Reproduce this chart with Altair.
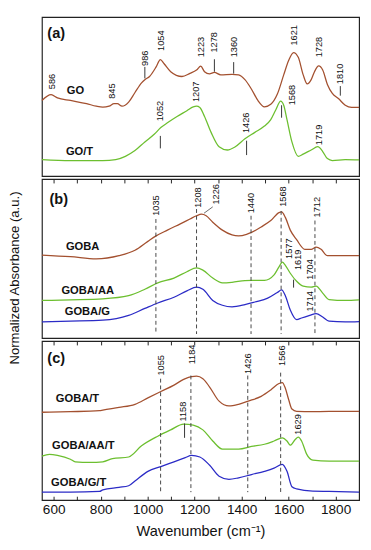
import altair as alt
import pandas as pd

# ---------------- data ----------------
# Panel (a)
go_wn = [550, 589, 616, 671, 740, 781, 809, 836, 857, 871, 891, 919, 946, 974, 988, 1008, 1036, 1054, 1070, 1098,
         1146, 1180, 1208, 1226, 1242, 1263, 1284, 1311, 1359, 1387, 1414, 1442, 1469, 1497, 1524, 1552, 1579, 1600,
         1621, 1641, 1662, 1679, 1696, 1710, 1728, 1745, 1765, 1786, 1813, 1841, 1868, 1900]
go_val = [79, 85, 81.7, 79, 75.7, 73, 72, 73, 75.7, 75.7, 73, 77.3, 87.3, 97.3, 100.7, 104, 114, 121.7, 117.3, 109,
          104, 107.3, 110.7, 114.7, 109, 106.7, 108.3, 105.7, 106.3, 105.7, 100.7, 90.7, 79, 72.3, 75, 85.7, 105.7,
          120.7, 129, 124, 105.7, 96.3, 100.7, 109, 115, 110.7, 95.7, 86.3, 80.7, 74, 71.7, 71.7]
got_wn = [550, 671, 809, 864, 905, 946, 988, 1029, 1056, 1084, 1125, 1167, 1194, 1208, 1222, 1242, 1270, 1304, 1339,
          1373, 1414, 1456, 1497, 1524, 1545, 1566, 1579, 1593, 1614, 1641, 1662, 1696, 1724, 1745, 1765, 1786, 1841, 1900]
got_val = [17.3, 16.3, 16.3, 17.3, 20.7, 26.7, 35.7, 44, 50.7, 55.7, 62.3, 68.3, 72.3, 73, 71.7, 62.3, 45.7, 30.7,
           27.3, 30.7, 39, 45.7, 52.3, 59, 69, 78.3, 74, 59, 35.7, 20.7, 23, 27.3, 30.7, 25.7, 18.3, 16.3, 17.3, 17]

# Panel (b)
goba_wn = [550, 671, 781, 878, 946, 1001, 1036, 1084, 1139, 1180, 1208, 1229, 1249, 1277, 1318, 1359, 1387, 1421,
           1442, 1483, 1524, 1559, 1570, 1586, 1607, 1634, 1669, 1696, 1717, 1738, 1765, 1841, 1900]
goba_val = [86.7, 85, 82.7, 86, 91.7, 101, 106.7, 112.7, 119.3, 124.3, 127.7, 129.3, 127.7, 121, 112.7, 107.7, 106.7,
            108.3, 110.3, 116, 122.7, 131, 131.7, 126, 112.7, 102.7, 92.7, 92.7, 95, 92.7, 86, 86, 86]
gobaaa_wn = [550, 671, 809, 919, 988, 1043, 1112, 1167, 1208, 1235, 1277, 1318, 1359, 1414, 1442, 1497, 1538, 1559,
             1573, 1586, 1607, 1634, 1662, 1696, 1717, 1745, 1772, 1841, 1900]
gobaaa_val = [39.3, 40, 41, 44.3, 51, 57.7, 62.7, 69.3, 73.3, 71, 62.7, 57.7, 58.3, 60, 60.3, 60.3, 66, 74.3, 79.3,
              76, 67.7, 59.3, 54.3, 53.3, 54.3, 47, 40.3, 39.3, 40]
gobag_wn = [550, 671, 809, 919, 988, 1043, 1112, 1167, 1208, 1235, 1277, 1318, 1359, 1414, 1456, 1511, 1552, 1570,
            1586, 1607, 1634, 1655, 1690, 1717, 1745, 1772, 1841, 1900]
gobag_val = [17, 17.7, 18.7, 23.7, 31, 36.7, 42.7, 49.3, 53.3, 51, 39.3, 34.3, 32.7, 35, 37.7, 41.7, 47.7, 50.3,
             44.3, 29.3, 19.3, 21, 23.7, 25.7, 22, 17.7, 17, 17.3]

# Panel (c)
gobat_wn = [550, 671, 795, 809, 878, 946, 1001, 1056, 1112, 1153, 1187, 1208, 1235, 1263, 1304, 1346, 1387, 1428,
            1483, 1524, 1559, 1573, 1586, 1600, 1614, 1634, 1703, 1841, 1900]
gobat_val = [91.7, 92.3, 93.3, 94, 96.7, 100, 106.7, 113.3, 120, 126, 129, 129.3, 126.7, 118.3, 103.3, 98.3, 100,
             103.3, 108.3, 115, 121.7, 122.7, 116.7, 105, 95, 92.7, 92.3, 92.7, 92.7]
gobaaat_wn = [550, 582, 616, 671, 692, 754, 809, 850, 919, 974, 1043, 1098, 1153, 1194, 1235, 1277, 1318, 1387, 1442,
              1497, 1538, 1573, 1593, 1607, 1628, 1641, 1655, 1676, 1703, 1772, 1900]
gobaaat_val = [46, 47.7, 46.7, 42.7, 40, 39.3, 40, 43.3, 45, 56.7, 66.7, 73.3, 79.3, 78.3, 73.3, 61.7, 53.3, 53.3,
               56, 58.3, 61.7, 65, 61.7, 57.3, 63.3, 65.7, 61.7, 48.3, 41.7, 40.7, 40.7]
gobagt_wn = [550, 671, 795, 809, 878, 919, 946, 1001, 1056, 1112, 1160, 1187, 1222, 1263, 1304, 1346, 1387, 1442,
             1497, 1538, 1573, 1593, 1614, 1634, 1703, 1772, 1900]
gobagt_val = [8.3, 8.3, 9, 10.7, 13.3, 15, 20, 30, 35, 40, 44.3, 46.7, 45, 36.7, 25, 21.7, 23.3, 26.7, 30, 33.3,
              37.3, 30, 14, 11.7, 9.3, 9, 8.3]

# annotations: (text, wavenumber, height at start of text)
peaks_a = [("586", 592, 90.7), ("845", 850, 80.7), ("986", 988, 115), ("1054", 1056, 130.7), ("1223", 1226, 124),
           ("1278", 1284, 129), ("1360", 1366, 124), ("1621", 1625, 136.3), ("1728", 1731, 124), ("1810", 1820, 96),
           ("1052", 1054, 57.3), ("1207", 1208, 77.3), ("1426", 1421, 45), ("1568", 1614, 74), ("1719", 1731, 32.3)]
sticks_a = [(988, 114, 102), (1284, 122, 109), (1366, 119, 107), (1820, 94, 84), (1054, 42, 29), (1421, 37, 22),
            (1570, 74, 61)]
names_a = [("GO", 656, 88.3), ("GO/T", 652, 25.3)]

peaks_b = [("1035", 1036, 127.7), ("1208", 1213, 136), ("1226", 1291, 139.4), ("1440", 1442, 130.3),
           ("1568", 1575, 137), ("1712", 1720, 126), ("1577", 1600, 82.7), ("1619", 1642, 71), ("1704", 1690, 61),
           ("1714", 1690, 27.7)]
dashes_b = [(1035, 124.3, 4.3), (1208, 134.7, 4.3), (1440, 127.7, 4.3), (1568, 132.7, 4.3), (1712, 122.7, 4.3)]
sticks_b = [(1621, 61, 52.7)]
slant_b = [(1277, 137, 1240, 130.4)]
names_b = [("GOBA", 652, 94.7), ("GOBA/AA", 633, 49.4), ("GOBA/G", 647, 27.7)]

peaks_c = [("1055", 1059, 130), ("1184", 1191, 141.7), ("1426", 1428, 131.7), ("1566", 1573, 140),
           ("1158", 1149, 82), ("1629", 1641, 68.3)]
dashes_c = [(1055, 126.7, 8.3), (1184, 130, 8.3), (1426, 130, 8.3), (1566, 133, 8.3)]
sticks_c = [(1157, 80, 65)]
names_c = [("GOBA/T", 609, 105), ("GOBA/AA/T", 593, 56), ("GOBA/G/T", 589, 17.6)]

panel_tags = [("(a)", 573, 149.3), ("(b)", 582, 144.7), ("(c)", 573, 148.3)]

tick_values = list(range(600, 1900, 100))
y_title = "Normalized Absorbance (a.u.)"

# ---------------- styling ----------------
BROWN, GREEN, BLUE = "#A3502F", "#6CBF2F", "#2B2BC6"
W, H = 327, 164
FONT = "Liberation Sans"
xs = alt.Scale(domain=[550, 1900], nice=False, zero=False)
ys = alt.Scale(domain=[0, 166], nice=False, zero=False)

top_tick_axis = alt.Axis(orient="top", offset=-4, values=tick_values, labels=False, domain=False, ticks=True,
                         tickSize=4, tickColor="#222", tickWidth=1, grid=False, title=None)
bottom_axis = alt.Axis(orient="bottom", offset=-4, values=tick_values, format="d",
                       labelExpr="datum.value % 200 === 0 ? datum.label : ''", labelOverlap=False,
                       labelFontSize=14, labelColor="#111", labelPadding=3, labelFont=FONT,
                       domain=False, ticks=True, tickSize=4, tickColor="#222", tickWidth=1, grid=False,
                       title="Wavenumber (cm\u207b\u00b9)", titleFontSize=15, titleFontWeight="normal",
                       titleColor="#111", titlePadding=8, titleFont=FONT)


def panel(series, peaks, sticks, names, tag, dashes=None, slants=None, top_ticks=False, with_bottom=False):
    rows = []
    for name, wn, val, col in series:
        for w, v in zip(wn, val):
            rows.append({"wn": w, "val": v, "s": name, "c": col})
    df = pd.DataFrame(rows)
    lines = alt.Chart(df).mark_line(strokeWidth=1.3, interpolate="monotone").encode(
        x=alt.X("wn:Q", scale=xs, axis=top_tick_axis if top_ticks else None),
        y=alt.Y("val:Q", scale=ys, axis=None),
        color=alt.Color("c:N", scale=None),
        detail="s:N",
    )
    layers = [lines]
    if dashes:
        ddf = pd.DataFrame(dashes, columns=["wn", "y1", "y2"])
        layers.append(alt.Chart(ddf).mark_rule(color="#444", strokeWidth=1, strokeDash=[4, 3]).encode(
            x=alt.X("wn:Q", scale=xs, axis=None), y=alt.Y("y1:Q", scale=ys, axis=None), y2="y2:Q"))
    sdf = pd.DataFrame(sticks, columns=["wn", "y1", "y2"])
    layers.append(alt.Chart(sdf).mark_rule(color="#333", strokeWidth=1).encode(
        x=alt.X("wn:Q", scale=xs, axis=None), y=alt.Y("y1:Q", scale=ys, axis=None), y2="y2:Q"))
    if slants:
        sl = pd.DataFrame(slants, columns=["x1", "y1", "x2", "y2"])
        layers.append(alt.Chart(sl).mark_rule(color="#444", strokeWidth=0.8).encode(
            x=alt.X("x1:Q", scale=xs, axis=None), x2="x2:Q",
            y=alt.Y("y1:Q", scale=ys, axis=None), y2="y2:Q"))
    pdf = pd.DataFrame(peaks, columns=["t", "wn", "val"])
    layers.append(alt.Chart(pdf).mark_text(angle=270, align="left", baseline="middle", fontSize=9.5,
                                           font=FONT, color="#111").encode(
        x=alt.X("wn:Q", scale=xs, axis=None), y=alt.Y("val:Q", scale=ys, axis=None), text="t:N"))
    ndf = pd.DataFrame(names, columns=["t", "wn", "val"])
    layers.append(alt.Chart(ndf).mark_text(align="left", baseline="middle", fontSize=11.5, fontWeight="bold",
                                           font=FONT, color="#111").encode(
        x=alt.X("wn:Q", scale=xs, axis=bottom_axis if with_bottom else None),
        y=alt.Y("val:Q", scale=ys, axis=None), text="t:N"))
    tdf = pd.DataFrame([tag], columns=["t", "wn", "val"])
    layers.append(alt.Chart(tdf).mark_text(align="left", baseline="middle", fontSize=15, fontWeight="bold",
                                           font=FONT, color="#111").encode(
        x=alt.X("wn:Q", scale=xs, axis=None), y=alt.Y("val:Q", scale=ys, axis=None), text="t:N"))
    return alt.layer(*layers).resolve_axis(x="independent").properties(width=W, height=H)


pa = panel([("GO", go_wn, go_val, BROWN), ("GO/T", got_wn, got_val, GREEN)],
           peaks_a, sticks_a, names_a, panel_tags[0])
pb = panel([("GOBA", goba_wn, goba_val, BROWN), ("GOBA/AA", gobaaa_wn, gobaaa_val, GREEN),
            ("GOBA/G", gobag_wn, gobag_val, BLUE)],
           peaks_b, sticks_b, names_b, panel_tags[1], dashes=dashes_b, slants=slant_b, top_ticks=True)
pc = panel([("GOBA/T", gobat_wn, gobat_val, BROWN), ("GOBA/AA/T", gobaaat_wn, gobaaat_val, GREEN),
            ("GOBA/G/T", gobagt_wn, gobagt_val, BLUE)],
           peaks_c, sticks_c, names_c, panel_tags[2], dashes=dashes_c, top_ticks=True, with_bottom=True)

chart = alt.vconcat(pa, pb, pc, spacing=0).properties(
    padding={"left": 0, "top": 0, "right": 0, "bottom": 0}, background="white",
    title=alt.TitleParams(text=y_title, orient="left", anchor="middle", fontSize=13.5, fontWeight="normal",
                          color="#111", font=FONT, offset=18),
).configure(font=FONT).configure_view(stroke="#222", strokeWidth=1.2)

chart.save("out.html", embed_options={"renderer": "svg", "actions": False})
